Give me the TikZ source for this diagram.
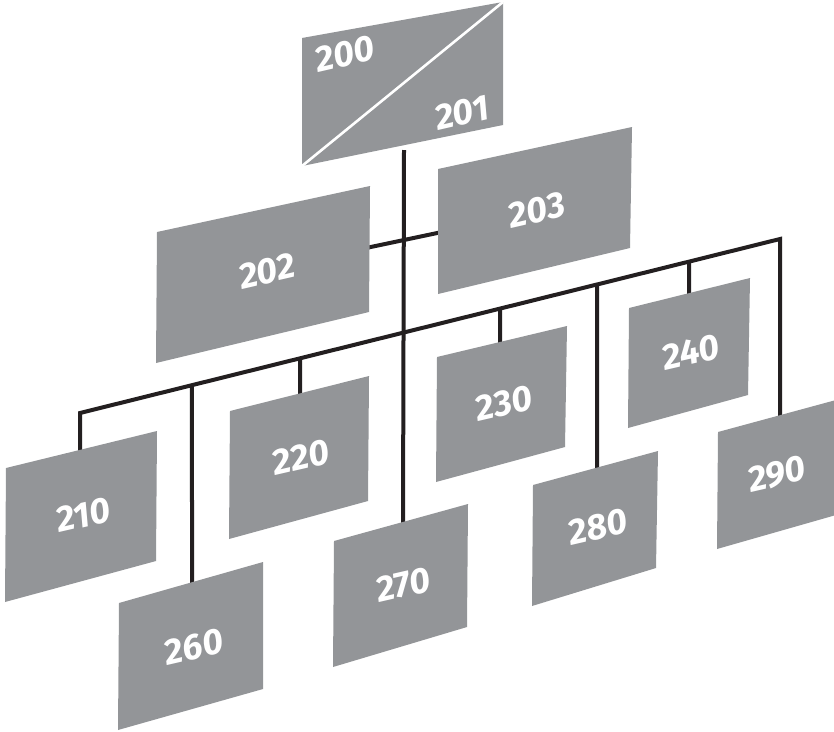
\documentclass[tikz,border=0pt]{standalone}
\usepackage{fontspec}
\setmainfont{Fira Sans}
\usetikzlibrary{calc}
\definecolor{boxgrey}{RGB}{147,149,152}
\definecolor{linek}{RGB}{35,31,32}
\begin{document}
\begin{tikzpicture}[x=1pt,y=-1pt,
  box/.style={fill=boxgrey},
  lbl/.style={text=white,inner sep=0pt,font=\bfseries\itshape\fontsize{36}{36}\selectfont,rotate=13},
  wire/.style={draw=linek,line width=4pt},
  diag/.style={draw=white,line width=2.6pt}]
\useasboundingbox (0,0) rectangle (834,731);
% attach coordinates
\coordinate (b200bot) at (404,150);
\coordinate (b270top) at (403,526);
\coordinate (b202r) at (366,248);
\coordinate (b203l) at (442,232);
\coordinate (busL) at (80,413);
\coordinate (busR) at (780,239);
\coordinate (b210top) at (80,454);
\coordinate (b260top) at (192,586);
\coordinate (b220top) at (300,397);
\coordinate (b230top) at (500,346);
\coordinate (b280top) at (597,471);
\coordinate (b240top) at (689,297);
\coordinate (b290top) at (780,421);
% wires
\draw[wire] (b200bot) -- (b270top);
\draw[wire] (b202r) -- (b203l);
\draw[wire,line join=miter] (b210top) -- (busL) -- (busR) -- (b290top);
\foreach \n/\xx in {260/192,220/300,230/500,280/597,240/689}{
  \draw[wire] ($(busL)!{(\xx-80)/700}!(busR)$) -- (b\n top);
}
% boxes
\fill[box] (302,38) -- (503,2) -- (503,125) -- (302,166) -- cycle;
\draw[diag] (302,166) -- (503,2);
\fill[box] (157,232) -- (370,186) -- (369,312) -- (156,363) -- cycle;
\fill[box] (438,169) -- (632,127) -- (630,248) -- (438,294) -- cycle;
\fill[box] (6,468) -- (157,431) -- (156,561) -- (5,602) -- cycle;
\fill[box] (230,411) -- (369,376) -- (368,501) -- (229,539) -- cycle;
\fill[box] (437,357) -- (567,326) -- (565,447) -- (436,482) -- cycle;
\fill[box] (629,308) -- (750,278) -- (748,395) -- (628,428) -- cycle;
\fill[box] (119,603) -- (263,562) -- (263,689) -- (118,730) -- cycle;
\fill[box] (334,541) -- (468,504) -- (467,627) -- (333,667) -- cycle;
\fill[box] (533,485) -- (658,451) -- (656,568) -- (532,606) -- cycle;
\fill[box] (718,432) -- (836,400) -- (836,515) -- (717,549) -- cycle;
% labels
\node[lbl] (t200) at (345,54) {200};
\node[lbl] (t201) at (462,113) {201};
\node[lbl] (t202) at (267,271) {202};
\node[lbl] (t203) at (537,210) {203};
\node[lbl] (t210) at (83,515) {210};
\node[lbl] (t220) at (301,457) {220};
\node[lbl] (t230) at (504,403) {230};
\node[lbl] (t240) at (691,352) {240};
\node[lbl] (t260) at (194,647) {260};
\node[lbl] (t270) at (403,585) {270};
\node[lbl] (t280) at (598,527) {280};
\node[lbl] (t290) at (777,474) {290};
\end{tikzpicture}
\end{document}
